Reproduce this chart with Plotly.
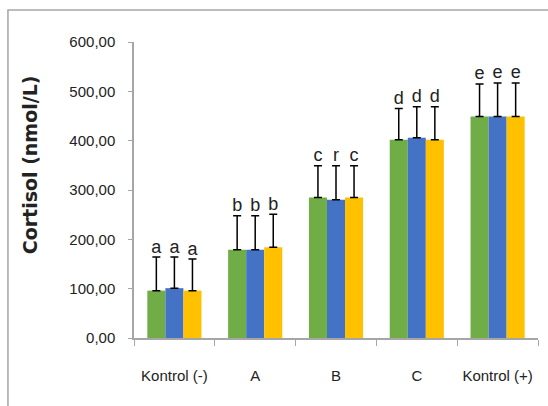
import plotly.graph_objects as go

categories = ["Kontrol (-)", "A", "B", "C", "Kontrol (+)"]
series_names = ["Seri 1", "Seri 2", "Seri 3"]
colors = ["#70AD47", "#4472C4", "#FFC000"]

means_1 = [96, 179, 285, 402, 449]
means_2 = [101, 179, 280, 406, 449]
means_3 = [96, 184, 285, 402, 449]
upper_1 = [164, 248, 349, 465, 515]
upper_2 = [164, 248, 349, 469, 517]
upper_3 = [160, 251, 349, 469, 517]

letters_1 = ["a", "b", "c", "d", "e"]
letters_2 = ["a", "b", "r", "d", "e"]
letters_3 = ["a", "b", "c", "d", "e"]

y_ticks = [0, 100, 200, 300, 400, 500, 600]
y_tick_text = ["0,00", "100,00", "200,00", "300,00", "400,00", "500,00", "600,00"]
y_title = "Cortisol (nmol/L)"

means = [means_1, means_2, means_3]
uppers = [upper_1, upper_2, upper_3]
letters = [letters_1, letters_2, letters_3]

FONT = "Liberation Sans, Arial, sans-serif"

fig = go.Figure()
for i in range(3):
    err = [u - m for u, m in zip(uppers[i], means[i])]
    fig.add_trace(go.Bar(
        x=categories, y=means[i], name=series_names[i],
        marker=dict(color=colors[i], line=dict(width=0)),
        offsetgroup=str(i), alignmentgroup="g",
        error_y=dict(type="data", symmetric=False, array=err,
                     arrayminus=[0] * len(err), color="black",
                     thickness=1.5, width=4),
    ))
for i in range(3):
    fig.add_trace(go.Scatter(
        x=categories, y=uppers[i], mode="text", text=letters[i],
        textposition="top center", offsetgroup=str(i), alignmentgroup="g",
        textfont=dict(family=FONT, size=18, color="#222"),
        showlegend=False, hoverinfo="skip",
    ))

fig.update_layout(
    width=548, height=406,
    margin=dict(l=134, r=10, t=42, b=68),
    paper_bgcolor="white", plot_bgcolor="white",
    barmode="group", scattermode="group", bargap=0.33, bargroupgap=0,
    showlegend=False,
    font=dict(family=FONT, size=15, color="#222"),
    shapes=[dict(type="rect", xref="paper", yref="paper",
                 x0=-0.312, x1=1.2, y0=-0.4, y1=1.108,
                 line=dict(color="#A6A6A6", width=1.5),
                 fillcolor="rgba(0,0,0,0)", layer="below")],
    annotations=[dict(text=y_title, textangle=-90, xref="paper", yref="paper",
                      x=-0.257, y=0.584, showarrow=False,
                      xanchor="center", yanchor="middle",
                      font=dict(family="DejaVu Sans", size=19, color="#222",
                                weight="bold"))],
)
fig.update_yaxes(
    range=[0, 600], tickvals=y_ticks, ticktext=y_tick_text,
    showgrid=False, zeroline=False,
    showline=True, linecolor="#A6A6A6", linewidth=1.5,
    ticks="outside", ticklen=4, tickcolor="#A6A6A6",
    ticklabelstandoff=10,
    tickfont=dict(family=FONT, size=15, color="#222"),
)
fig.update_xaxes(
    showgrid=False, showline=True, linecolor="#A6A6A6", linewidth=1.5,
    ticks="outside", ticklen=6, tickcolor="#A6A6A6", tickson="boundaries",
    tickfont=dict(family=FONT, size=15, color="#222"),
    ticklabelstandoff=23,
)

fig.write_html("out.html", config={"displayModeBar": False},
               post_script="document.body.style.margin='0';")
